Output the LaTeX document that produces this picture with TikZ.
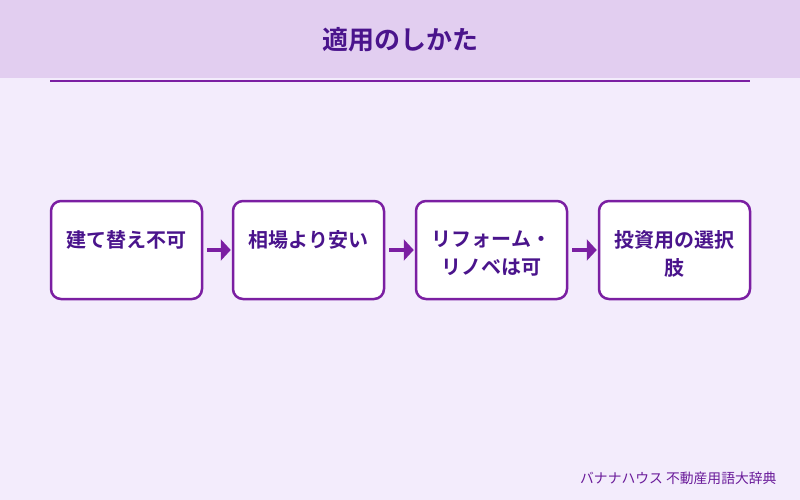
\documentclass[tikz,border=0pt]{standalone}
\usepackage{fontspec}
\setmainfont{Noto Sans CJK JP}
\newfontfamily\jpbold{Noto Sans CJK JP Bold}
\usetikzlibrary{arrows.meta}
\definecolor{bgc}{HTML}{F3ECFC}
\definecolor{hdr}{HTML}{E2CEF0}
\definecolor{pline}{HTML}{7B1FA2}
\definecolor{ptext}{HTML}{4A148C}
\definecolor{pfoot}{HTML}{6A1B9A}
\tikzset{
  stepbox/.style={draw=pline, line width=2.5pt, fill=white, rounded corners=10pt,
    minimum width=151pt, minimum height=98pt, inner sep=0pt},
  steptext/.style={anchor=north, align=center, text=ptext, inner sep=0pt,
    font=\jpbold\fontsize{20}{28}\selectfont},
  flowarrow/.style={draw=pline, line width=4pt, -{Triangle[length=10pt,width=21pt]}}
}
\begin{document}
\begin{tikzpicture}[x=1pt,y=-1pt]
\useasboundingbox (0,0) rectangle (800,500);
\fill[bgc] (0,0) rectangle (800,500);
\fill[hdr] (0,0) rectangle (800,78);
\node[text=ptext, font=\jpbold\fontsize{26}{30}\selectfont] (title) at (400,40) {適用のしかた};
\draw[pline, line width=2pt] (50,81) -- (750,81);
\node[stepbox] (b1) at (126.5,250) {};
\node[stepbox] (b2) at (308.5,250) {};
\node[stepbox] (b3) at (491.5,250) {};
\node[stepbox] (b4) at (674.5,250) {};
\node[steptext] (t1) at (126.5,230.5) {建て替え不可};
\node[steptext] (t2) at (308.5,230.5) {相場より安い};
\node[steptext] (t3) at (491.5,230.5) {リフォーム・\\リノベは可};
\node[steptext] (t4) at (674.5,230.5) {投資用の選択\\肢};
\draw[flowarrow] ([xshift=4pt]b1.east) -- ([xshift=-1pt]b2.west);
\draw[flowarrow] ([xshift=4pt]b2.east) -- ([xshift=-1pt]b3.west);
\draw[flowarrow] ([xshift=4pt]b3.east) -- ([xshift=-1pt]b4.west);
\node[anchor=east, text=pfoot, font=\fontsize{13.8}{16}\selectfont] (foot) at (780,478) {バナナハウス 不動産用語大辞典};
\end{tikzpicture}
\end{document}
